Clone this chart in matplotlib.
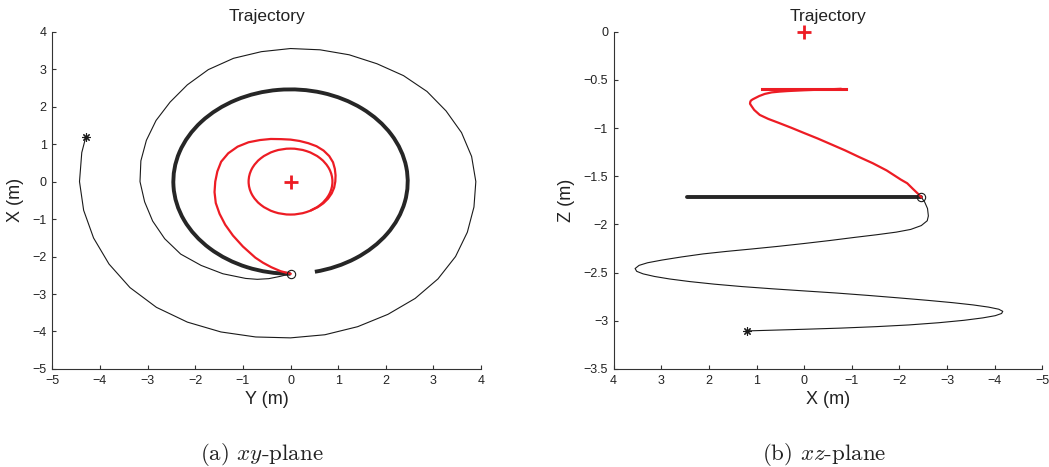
import numpy as np
import matplotlib.pyplot as plt
from matplotlib.patches import Arc
from matplotlib.ticker import FuncFormatter

plt.rcParams['font.family'] = ['Liberation Sans', 'DejaVu Sans']
plt.rcParams['mathtext.fontset'] = 'cm'

# Approach spiral: heading angle around the target (deg, from +Y towards +X),
# distance from the target (m) and height Z (m) along the way.
approach_deg = [164.4, 170, 180, 190, 200, 210, 220, 230, 240, 250,
                260, 270, 280, 290, 300, 310, 320, 330, 340, 350,
                360, 370, 380, 390, 400, 410, 420, 430, 440, 450,
                460, 470, 480, 490, 500, 510, 520, 530, 540, 550,
                560, 570, 580, 590, 600, 610, 615, 620, 625, 630]
approach_r = [4.46, 4.45, 4.43, 4.41, 4.40, 4.40, 4.40, 4.38, 4.33, 4.27,
              4.21, 4.17, 4.15, 4.12, 4.09, 4.07, 4.04, 4.00, 3.95, 3.91,
              3.89, 3.86, 3.82, 3.77, 3.74, 3.69, 3.63, 3.60, 3.57, 3.55,
              3.52, 3.50, 3.45, 3.37, 3.30, 3.26, 3.22, 3.19, 3.16, 3.11,
              3.08, 3.05, 3.01, 2.92, 2.84, 2.75, 2.70, 2.63, 2.54, 2.46]
approach_z = [-3.105, -3.099, -3.088, -3.076, -3.061, -3.043, -3.020, -2.995, -2.970, -2.947,
              -2.924, -2.902, -2.880, -2.858, -2.835, -2.812, -2.788, -2.763, -2.737, -2.712,
              -2.690, -2.668, -2.645, -2.620, -2.593, -2.566, -2.540, -2.513, -2.487, -2.458,
              -2.425, -2.398, -2.370, -2.338, -2.306, -2.280, -2.255, -2.228, -2.198, -2.167,
              -2.135, -2.107, -2.080, -2.052, -2.012, -1.962, -1.912, -1.835, -1.768, -1.718]

# Descent from the holding circle onto the final circle
descent_deg = [270, 265, 260, 255, 250, 240, 230, 220, 210, 200,
               190, 180, 170, 160, 150, 140, 130, 120, 110, 100,
               90, 80, 70, 60, 50, 40, 30, 20, 10, 0,
               -10, -20, -30, -40, -50, -60]
descent_r = [2.46, 2.40, 2.32, 2.24, 2.16, 2.00, 1.88, 1.79, 1.72, 1.67,
             1.62, 1.58, 1.56, 1.55, 1.51, 1.45, 1.37, 1.28, 1.21, 1.15,
             1.12, 1.10, 1.09, 1.09, 1.08, 1.06, 1.03, 0.99, 0.96, 0.94,
             0.93, 0.92, 0.91, 0.90, 0.89, 0.88]
descent_z = [-1.718, -1.682, -1.632, -1.573, -1.535, -1.440, -1.365, -1.300, -1.232, -1.170,
             -1.108, -1.052, -0.997, -0.947, -0.905, -0.864, -0.812, -0.770, -0.748, -0.730,
             -0.716, -0.703, -0.688, -0.668, -0.646, -0.630, -0.622, -0.616, -0.612, -0.608,
             -0.605, -0.602, -0.599, -0.597, -0.595, -0.593]

# holding circle (gap just after the junction) and final circle
hold_radius = 2.46
hold_z = -1.72
hold_from_deg = -78
hold_to_deg = 270
inner_radius = 0.88
inner_z = -0.59

target_x, target_y, target_z = 0.0, 0.0, 0.0

RED = '#ed1c24'
DARK = '#1a1a1a'
THICK = '#262626'


def to_xy(deg, r):
    a = np.radians(deg)
    r = np.asarray(r)
    return target_y + r * np.cos(a), target_x + r * np.sin(a)


approach_y, approach_x = to_xy(approach_deg, approach_r)
descent_y, descent_x = to_xy(descent_deg, descent_r)


def minus_fmt(v, pos):
    return f"{v:g}".replace('-', '\u2212')


def style_axes(ax):
    for side in ('top', 'right'):
        ax.spines[side].set_visible(False)
    for side in ('left', 'bottom'):
        ax.spines[side].set_color('#333333')
        ax.spines[side].set_linewidth(0.8)
    ax.tick_params(direction='in', length=3, width=0.8, colors='#333333',
                   labelsize=9, labelcolor='#222222', pad=4)
    ax.xaxis.set_major_formatter(FuncFormatter(minus_fmt))
    ax.yaxis.set_major_formatter(FuncFormatter(minus_fmt))
    ax.set_title('Trajectory', fontsize=12.5, color='#222222', pad=8)


fig = plt.figure(figsize=(10.49, 4.67), dpi=100)
ax1 = fig.add_axes([0.0499, 0.2099, 0.4087, 0.7223])
ax2 = fig.add_axes([0.5850, 0.2099, 0.4086, 0.7223])

star = (8, 2, 0)

# xy-plane
ax1.plot(approach_y, approach_x, color=DARK, lw=0.8, zorder=2)
ax1.add_patch(Arc((target_y, target_x), 2 * hold_radius, 2 * hold_radius,
                  theta1=hold_from_deg, theta2=hold_to_deg,
                  color=THICK, lw=2.8, zorder=3))
ax1.plot(descent_y, descent_x, color=RED, lw=1.6, zorder=4)
ax1.add_patch(Arc((target_y, target_x), 2 * inner_radius, 2 * inner_radius,
                  color=RED, lw=1.6, zorder=4))
ax1.plot(approach_y[0], approach_x[0], marker=star, color=DARK, ms=6, mew=0.8, zorder=5)
ax1.plot(approach_y[-1], approach_x[-1], 'o', mfc='none', mec=DARK, ms=6, mew=0.8, zorder=5)
ax1.plot(target_y, target_x, '+', color=RED, ms=10, mew=2, zorder=5)
ax1.set_xlim(-5, 4)
ax1.set_ylim(-5, 4)
ax1.set_xticks(np.arange(-5, 5))
ax1.set_yticks(np.arange(-5, 5))
style_axes(ax1)
ax1.set_xlabel('Y (m)', fontsize=13, color='#222222', labelpad=3)
ax1.set_ylabel('X (m)', fontsize=13, color='#222222', labelpad=6)

# xz-plane
ax2.plot(approach_x, approach_z, color=DARK, lw=0.8, zorder=2)
ax2.plot([hold_radius, -hold_radius], [hold_z, hold_z], color=THICK, lw=2.8,
         solid_capstyle='round', zorder=3)
ax2.plot(descent_x, descent_z, color=RED, lw=1.6, zorder=4)
ax2.plot([inner_radius, -inner_radius], [inner_z, inner_z], color=RED, lw=2.2, zorder=4)
ax2.plot(approach_x[0], approach_z[0], marker=star, color=DARK, ms=6, mew=0.8, zorder=5)
ax2.plot(approach_x[-1], approach_z[-1], 'o', mfc='none', mec=DARK, ms=6, mew=0.8, zorder=5)
ax2.plot(target_x, target_z, '+', color=RED, ms=10, mew=2, zorder=5, clip_on=False)
ax2.set_xlim(4, -5)
ax2.set_ylim(-3.5, 0)
ax2.set_xticks(np.arange(4, -6, -1))
ax2.set_yticks(np.arange(-3.5, 0.01, 0.5))
style_axes(ax2)
ax2.set_xlabel('X (m)', fontsize=13, color='#222222', labelpad=3)
ax2.set_ylabel('Z (m)', fontsize=13, color='#222222', labelpad=6)

fig.text(262 / 1049, 1 - 455 / 467, r'(a) $xy$-plane', ha='center', va='center',
         fontsize=16.5, family='cmr10', color='#222222')
fig.text(824 / 1049, 1 - 455 / 467, r'(b) $xz$-plane', ha='center', va='center',
         fontsize=16.5, family='cmr10', color='#222222')

fig.savefig('out.png', dpi=100)
